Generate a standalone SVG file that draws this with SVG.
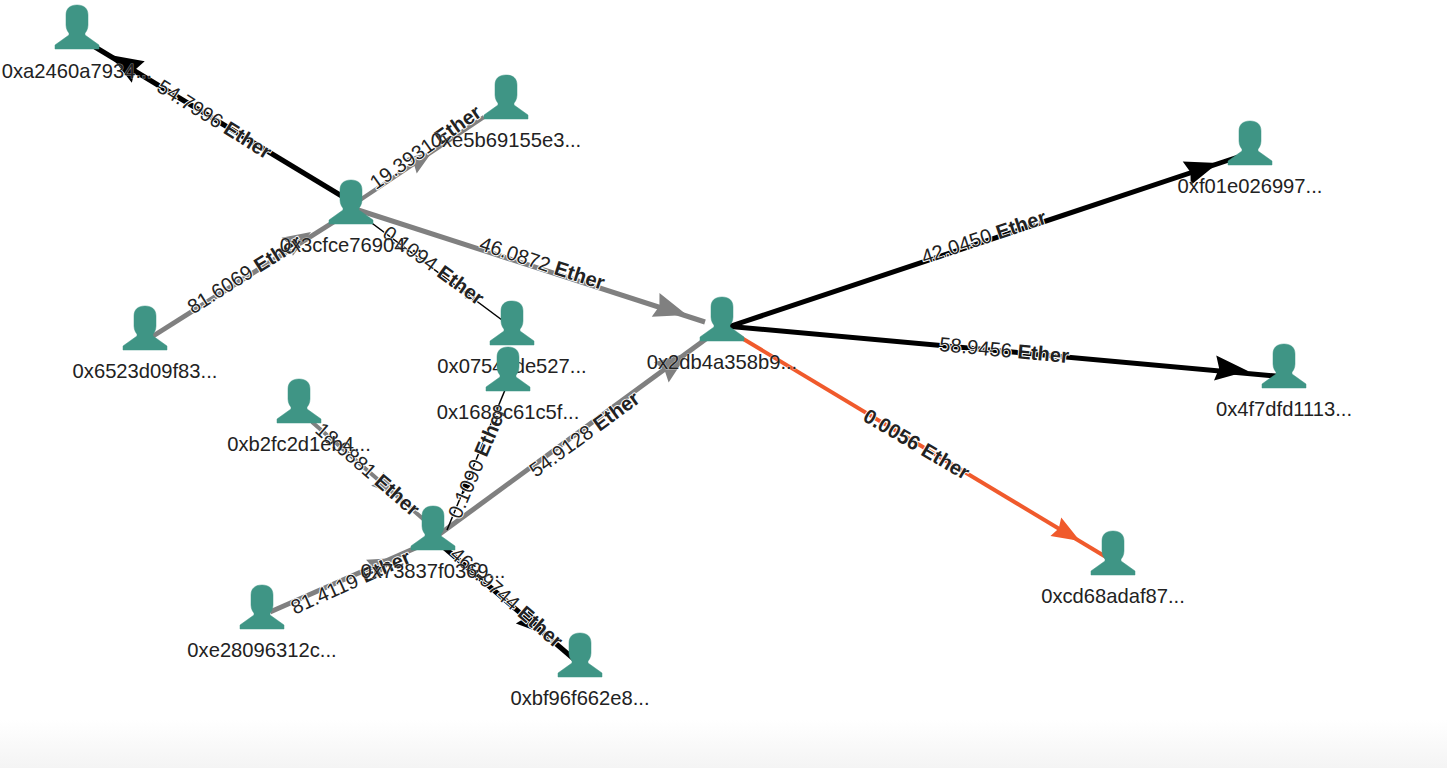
<svg xmlns="http://www.w3.org/2000/svg" width="1447" height="768" viewBox="0 0 1447 768">
<style>
text{font-family:"Liberation Sans",Arial,sans-serif;fill:#222}
.nl{font-size:20.2px;text-anchor:middle;stroke:#fff;stroke-width:1;stroke-opacity:.5;paint-order:stroke}
.el{font-size:20.2px;text-anchor:middle;stroke:#fff;stroke-width:1.8;paint-order:stroke}
.el tspan{font-weight:bold}
.icon{fill:#3f9585;stroke:#3f9585;stroke-width:.5}
.e{fill:none}
.k{stroke:#000}.g{stroke:#808080}.o{stroke:#f05a2c}
.fk{fill:#000}.fg{fill:#808080}.fo{fill:#f05a2c}
.w4{stroke-width:5}.w3{stroke-width:4}.w1{stroke-width:1.5}
</style>
<defs>
<linearGradient id="bg" x1="0" y1="0" x2="0" y2="1"><stop offset="0" stop-color="#fff"/><stop offset="1" stop-color="#f4f4f4"/></linearGradient>
<path id="person" class="icon" d="M0,0C-7,0-11,3.500-11,10V20C-11,24-9,27-8,28V30L-22,40V44H22V40L8,30V28C9,27 11,24 11,20V10C11,3.500 7,0 0,0Z"/>
<path id="ah" d="M0,0L-33,-12.500L-29,0L-33,12.500Z"/>
</defs>
<rect x="0" y="720" width="1447" height="48" fill="url(#bg)"/>
<g id="connectors">
<g id="edge-3cfce-a246"><line class="e k w4" x1="345" y1="198" x2="95" y2="47"/><use href="#ah" class="fk" transform="translate(110,55) rotate(211)"/><text class="el" transform="translate(214,120) rotate(32)" y="6">54.7996 <tspan>Ether</tspan></text></g>
<g id="edge-3cfce-e5b6"><line class="e g w3" x1="360" y1="200" x2="484" y2="117"/><use href="#ah" class="fg" transform="translate(432,152) rotate(-34) scale(.75)"/><text class="el" transform="translate(426,148) rotate(-35)" y="6">19.3931 <tspan>Ether</tspan></text></g>
<g id="edge-6523-3cfce"><line class="e g w4" x1="150" y1="338" x2="340" y2="218"/><use href="#ah" class="fg" transform="translate(311,232) rotate(-32) scale(.85)"/><text class="el" transform="translate(245,275) rotate(-32)" y="6">81.6069 <tspan>Ether</tspan></text></g>
<g id="edge-3cfce-0754"><line class="e k w1" x1="365" y1="218" x2="502" y2="320"/><use href="#ah" class="fk" transform="translate(478,302) rotate(37) scale(.4)"/><text class="el" transform="translate(433,266) rotate(36)" y="6">0.1094 <tspan>Ether</tspan></text></g>
<g id="edge-3cfce-2db4"><line class="e g w4" x1="355" y1="209" x2="705" y2="322"/><use href="#ah" class="fg" transform="translate(687,315) rotate(18)"/><text class="el" transform="translate(542,264) rotate(18)" y="6">46.0872 <tspan>Ether</tspan></text></g>
<g id="edge-2db4-f01e"><line class="e k w4" x1="725" y1="328" x2="1238" y2="157"/><use href="#ah" class="fk" transform="translate(1218,163) rotate(-18.500)"/><text class="el" transform="translate(984,238) rotate(-18.500)" y="6">42.0450 <tspan>Ether</tspan></text></g>
<g id="edge-2db4-4f7d"><line class="e k w4" x1="725" y1="326" x2="1276" y2="376"/><use href="#ah" class="fk" transform="translate(1248,371) rotate(5.200)"/><text class="el" transform="translate(1004,351) rotate(5.200)" y="6">58.9456 <tspan>Ether</tspan></text></g>
<g id="edge-2db4-cd68"><line class="e o w3" x1="735" y1="334" x2="1106" y2="557"/><use href="#ah" class="fo" transform="translate(1080,541) rotate(30.500) scale(.85)"/><text class="el" font-weight="bold" transform="translate(916,445) rotate(30.500)" y="6">0.0056 <tspan>Ether</tspan></text></g>
<g id="edge-f737-2db4"><line class="e g w4" x1="437" y1="536" x2="710" y2="336"/><use href="#ah" class="fg" transform="translate(688,353) rotate(-36)"/><text class="el" transform="translate(585,435) rotate(-36)" y="6">54.9128 <tspan>Ether</tspan></text></g>
<g id="edge-1688-f737"><line class="e k w1" x1="505" y1="390" x2="447" y2="530"/><use href="#ah" class="fk" transform="translate(462,495) rotate(112) scale(.4)"/><text class="el" transform="translate(478,463) rotate(-67)" y="6">0.1090 <tspan>Ether</tspan></text></g>
<g id="edge-b2fc-f737"><line class="e g w3" x1="312" y1="422" x2="430" y2="525"/><use href="#ah" class="fg" transform="translate(396,495) rotate(41) scale(.75)"/><text class="el" transform="translate(367,470) rotate(41)" y="6">18.6881 <tspan>Ether</tspan></text></g>
<g id="edge-e280-f737"><line class="e g w4" x1="270" y1="612" x2="420" y2="546"/><use href="#ah" class="fg" transform="translate(396,558) rotate(-24) scale(.85)"/><text class="el" transform="translate(351,583) rotate(-24)" y="6">81.4119 <tspan>Ether</tspan></text></g>
<g id="edge-f737-bf96"><line class="e k w4" x1="440" y1="544" x2="575" y2="660"/><use href="#ah" class="fk" transform="translate(544,634) rotate(41) scale(.85)"/><text class="el" transform="translate(506,598) rotate(41)" y="6">469.9744 <tspan>Ether</tspan></text></g>
</g>
<g id="node-a246"><use href="#person" x="77" y="5"/><text class="nl" x="77" y="78">0xa2460a7934...</text></g>
<g id="node-e5b6"><use href="#person" x="506" y="75"/><text class="nl" x="506" y="147">0xe5b69155e3...</text></g>
<g id="node-3cfc"><use href="#person" x="351" y="180"/><text class="nl" x="351" y="252">0x3cfce76904...</text></g>
<g id="node-6523"><use href="#person" x="145" y="306"/><text class="nl" x="145" y="378">0x6523d09f83...</text></g>
<g id="node-0754"><use href="#person" x="512" y="301"/><text class="nl" x="512" y="373">0x0754cde527...</text></g>
<g id="node-1688"><use href="#person" x="508" y="347"/><text class="nl" x="508" y="419">0x1688c61c5f...</text></g>
<g id="node-b2fc"><use href="#person" x="299" y="379"/><text class="nl" x="299" y="451">0xb2fc2d1eb4...</text></g>
<g id="node-7383"><use href="#person" x="433" y="506"/><text class="nl" x="433" y="578">0x73837f0369...</text></g>
<g id="node-e280"><use href="#person" x="262" y="585"/><text class="nl" x="262" y="657">0xe28096312c...</text></g>
<g id="node-bf96"><use href="#person" x="580" y="633"/><text class="nl" x="580" y="705">0xbf96f662e8...</text></g>
<g id="node-2db4"><use href="#person" x="722" y="297"/><text class="nl" x="722" y="369">0x2db4a358b9...</text></g>
<g id="node-f01e"><use href="#person" x="1250" y="121"/><text class="nl" x="1250" y="193">0xf01e026997...</text></g>
<g id="node-4f7d"><use href="#person" x="1284" y="344"/><text class="nl" x="1284" y="416">0x4f7dfd1113...</text></g>
<g id="node-cd68"><use href="#person" x="1113" y="531"/><text class="nl" x="1113" y="603">0xcd68adaf87...</text></g>
</svg>
